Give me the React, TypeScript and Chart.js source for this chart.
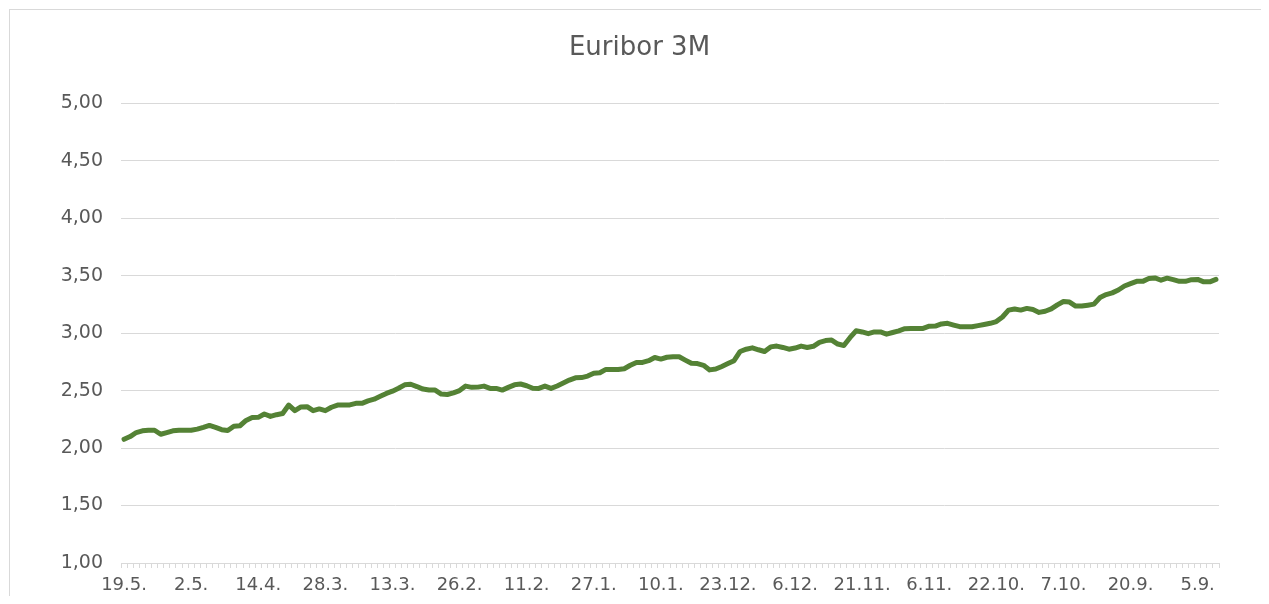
import React, { useEffect, useRef } from "react";
import { Chart, registerables } from "chart.js";

Chart.register(...registerables);

// Category labels (TARGET business days, newest first), grouped by month
const mayLabels = ["19.5.", "16.5.", "15.5.", "14.5.", "13.5.", "12.5.", "9.5.", "8.5.", "7.5.", "6.5.", "5.5.", "2.5."];
const aprLabels = ["30.4.", "29.4.", "28.4.", "25.4.", "24.4.", "23.4.", "22.4.", "17.4.", "16.4.", "15.4.", "14.4.", "11.4.", "10.4.", "9.4.", "8.4.", "7.4.", "4.4.", "3.4.", "2.4.", "1.4."];
const marLabels = ["31.3.", "28.3.", "27.3.", "26.3.", "25.3.", "24.3.", "21.3.", "20.3.", "19.3.", "18.3.", "17.3.", "14.3.", "13.3.", "12.3.", "11.3.", "10.3.", "7.3.", "6.3.", "5.3.", "4.3.", "3.3."];
const febLabels = ["28.2.", "27.2.", "26.2.", "25.2.", "24.2.", "21.2.", "20.2.", "19.2.", "18.2.", "17.2.", "14.2.", "13.2.", "12.2.", "11.2.", "10.2.", "7.2.", "6.2.", "5.2.", "4.2.", "3.2."];
const janLabels = ["31.1.", "30.1.", "29.1.", "28.1.", "27.1.", "24.1.", "23.1.", "22.1.", "21.1.", "20.1.", "17.1.", "16.1.", "15.1.", "14.1.", "13.1.", "10.1.", "9.1.", "8.1.", "7.1.", "6.1.", "3.1.", "2.1."];
const decLabels = ["31.12.", "30.12.", "27.12.", "24.12.", "23.12.", "20.12.", "19.12.", "18.12.", "17.12.", "16.12.", "13.12.", "12.12.", "11.12.", "10.12.", "9.12.", "6.12.", "5.12.", "4.12.", "3.12.", "2.12."];
const novLabels = ["29.11.", "28.11.", "27.11.", "26.11.", "25.11.", "22.11.", "21.11.", "20.11.", "19.11.", "18.11.", "15.11.", "14.11.", "13.11.", "12.11.", "11.11.", "8.11.", "7.11.", "6.11.", "5.11.", "4.11.", "1.11."];
const octLabels = ["31.10.", "30.10.", "29.10.", "28.10.", "25.10.", "24.10.", "23.10.", "22.10.", "21.10.", "18.10.", "17.10.", "16.10.", "15.10.", "14.10.", "11.10.", "10.10.", "9.10.", "8.10.", "7.10.", "4.10.", "3.10.", "2.10.", "1.10."];
const sepLabels = ["30.9.", "27.9.", "26.9.", "25.9.", "24.9.", "23.9.", "20.9.", "19.9.", "18.9.", "17.9.", "16.9.", "13.9.", "12.9.", "11.9.", "10.9.", "9.9.", "6.9.", "5.9.", "4.9.", "3.9.", "2.9."];

// Euribor 3M values (%), same order as labels
const mayValues = [2.076, 2.10, 2.135, 2.15, 2.155, 2.155, 2.12, 2.135, 2.15, 2.155, 2.155, 2.155];
const aprValues = [2.165, 2.18, 2.197, 2.18, 2.16, 2.152, 2.19, 2.194, 2.24, 2.265, 2.267, 2.296, 2.275, 2.29, 2.30, 2.374, 2.325, 2.358, 2.36, 2.325];
const marValues = [2.34, 2.325, 2.355, 2.374, 2.374, 2.375, 2.389, 2.389, 2.41, 2.425, 2.45, 2.475, 2.495, 2.52, 2.55, 2.555, 2.535, 2.513, 2.505, 2.504, 2.47];
const febValues = [2.466, 2.48, 2.50, 2.539, 2.528, 2.53, 2.539, 2.519, 2.519, 2.504, 2.528, 2.55, 2.557, 2.542, 2.52, 2.519, 2.539, 2.519, 2.54, 2.565];
const janValues = [2.591, 2.611, 2.613, 2.626, 2.65, 2.655, 2.684, 2.684, 2.684, 2.69, 2.72, 2.745, 2.745, 2.76, 2.788, 2.774, 2.79, 2.794, 2.794, 2.765, 2.737, 2.735];
const decValues = [2.72, 2.68, 2.687, 2.71, 2.735, 2.76, 2.84, 2.86, 2.872, 2.855, 2.84, 2.88, 2.887, 2.875, 2.86, 2.87, 2.887, 2.875, 2.885, 2.92];
const novValues = [2.935, 2.939, 2.905, 2.892, 2.96, 3.02, 3.01, 2.995, 3.01, 3.01, 2.991, 3.005, 3.02, 3.038, 3.041, 3.041, 3.041, 3.06, 3.061, 3.08, 3.085];
const octValues = [3.07, 3.056, 3.055, 3.055, 3.065, 3.075, 3.085, 3.10, 3.14, 3.20, 3.21, 3.20, 3.215, 3.205, 3.18, 3.19, 3.21, 3.245, 3.275, 3.27, 3.235, 3.235, 3.243];
const sepValues = [3.252, 3.31, 3.335, 3.35, 3.375, 3.41, 3.43, 3.45, 3.45, 3.475, 3.48, 3.46, 3.478, 3.465, 3.45, 3.45, 3.465, 3.467, 3.446, 3.446, 3.467];

const labels = [...mayLabels, ...aprLabels, ...marLabels, ...febLabels, ...janLabels, ...decLabels, ...novLabels, ...octLabels, ...sepLabels];
const values = [...mayValues, ...aprValues, ...marValues, ...febValues, ...janValues, ...decValues, ...novValues, ...octValues, ...sepValues];

const LABEL_EVERY = 11;
const TITLE = "Euribor 3M";

const TEXT = "#595959";
const GRID = "#d9d9d9";
const LINE = "#548235";
const FONT = "'DejaVu Sans', sans-serif";

export default function App() {
  const ref = useRef<HTMLCanvasElement | null>(null);

  useEffect(() => {
    document.documentElement.style.overflow = "hidden";
    document.body.style.overflow = "hidden";
    if (!ref.current) return;
    const chart = new Chart(ref.current, {
      type: "line",
      data: {
        labels,
        datasets: [
          {
            data: values,
            borderColor: LINE,
            borderWidth: 5,
            pointRadius: 0,
            tension: 0,
            borderJoinStyle: "round",
            borderCapStyle: "round",
            fill: false,
            yAxisID: "y",
          },
        ],
      },
      options: {
        animation: false,
        responsive: false,
        maintainAspectRatio: false,
        layout: { padding: 0 },
        plugins: {
          legend: { display: false },
          tooltip: { enabled: false },
          title: {
            display: true,
            text: TITLE,
            color: TEXT,
            font: { family: FONT, size: 26, weight: "normal", lineHeight: 1.2 },
            padding: { top: 23, bottom: 39 },
          },
        },
        scales: {
          x: {
            offset: true,
            grid: {
              offset: true,
              drawOnChartArea: false,
              drawTicks: true,
              tickLength: 5,
              color: GRID,
            },
            border: { display: true, color: GRID },
            ticks: {
              autoSkip: false,
              maxRotation: 0,
              minRotation: 0,
              color: TEXT,
              padding: 7,
              font: { family: FONT, size: 18 },
              callback: (_v: any, i: number) => (i % LABEL_EVERY === 0 ? labels[i] : ""),
            },
            afterFit: (s: any) => {
              s.height = 41;
            },
          },
          y: {
            min: 1,
            max: 5,
            grid: { color: GRID, drawTicks: false },
            border: { display: false },
            ticks: {
              stepSize: 0.5,
              color: TEXT,
              padding: 18,
              font: { family: FONT, size: 19 },
              callback: (v: any) => Number(v).toFixed(2).replace(".", ","),
            },
            afterFit: (s: any) => {
              s.width = 111;
            },
          },
          yRight: {
            position: "right",
            display: true,
            min: 1,
            max: 5,
            grid: { drawOnChartArea: false, drawTicks: false },
            border: { display: false },
            ticks: { display: false },
            afterFit: (s: any) => {
              s.width = 50;
            },
          },
        },
      },
    });
    return () => chart.destroy();
  }, []);

  const rowMarks = Array.from({ length: 21 }, (_, k) => 38 + k * 27.2);

  return (
    <div style={{ position: "relative", width: 1261, height: 588 }}>
      {rowMarks.map((y, k) => (
        <div
          key={k}
          style={{ position: "absolute", left: -8, top: y - 8, width: 8, height: 1, background: GRID }}
        />
      ))}
      <div
        style={{
          position: "absolute",
          left: 1,
          top: 1,
          width: 1259,
          height: 594,
          borderLeft: `1px solid ${GRID}`,
          borderTop: `1px solid ${GRID}`,
          background: "#fff",
        }}
      >
        <canvas ref={ref} width={1259} height={594} style={{ display: "block" }} />
      </div>
    </div>
  );
}
